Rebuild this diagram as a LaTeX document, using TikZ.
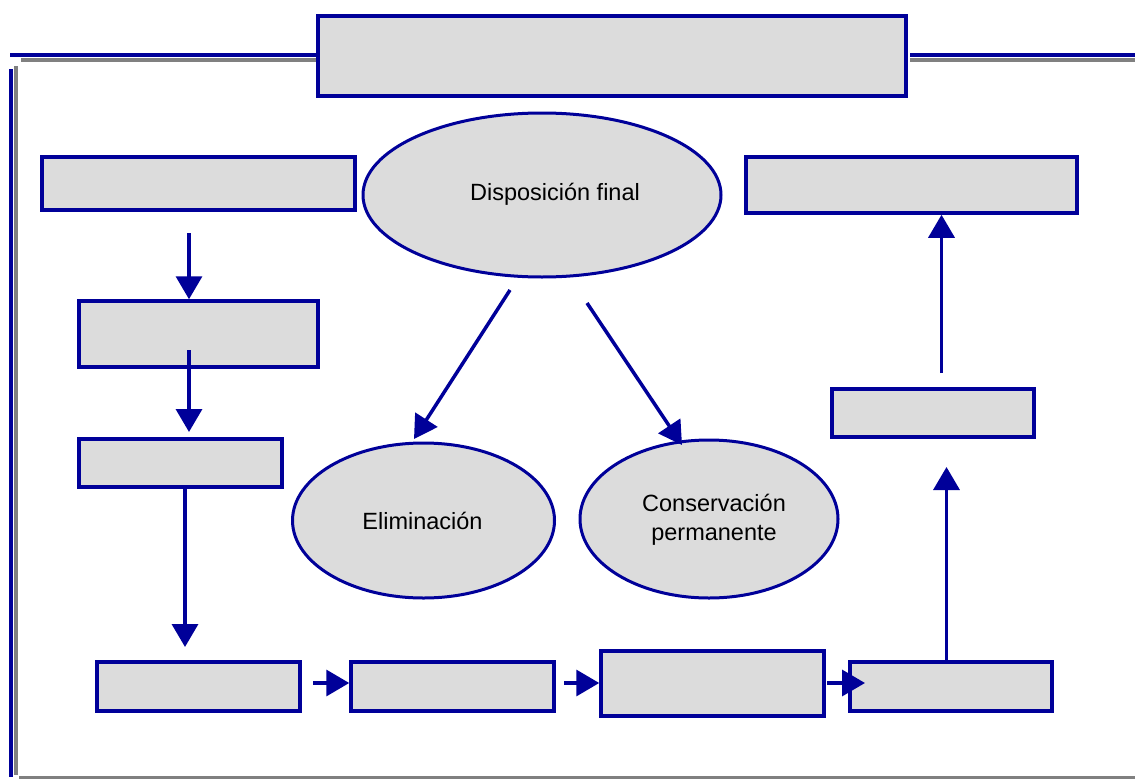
\documentclass[tikz,border=0pt]{standalone}
\usepackage{fontspec}
\setmainfont{Liberation Sans}
\usetikzlibrary{arrows.meta,shapes.geometric}
\definecolor{dblue}{RGB}{0,0,153}
\definecolor{boxfill}{RGB}{220,220,220}
\definecolor{rulegray}{RGB}{128,128,128}
\tikzset{
  boxnode/.style={draw=dblue,fill=boxfill,line width=3.5pt,inner sep=0pt,rectangle},
  ellnode/.style={draw=dblue,fill=boxfill,line width=3pt,inner sep=0pt,ellipse},
  elltext/.style={font=\fontsize{23.5}{29.5}\selectfont,align=center,inner sep=0pt},
  arr/.style={draw=dblue,line width=3.5pt,-{Triangle[length=23pt,width=26pt]}},
  bluerule/.style={draw=dblue,line width=4pt},
  grayrule/.style={draw=rulegray,line width=4pt},
}
\begin{document}
\begin{tikzpicture}[x=1pt,y=-1pt]
\useasboundingbox (0,0) rectangle (1135,779);
% frame rules
\draw[grayrule] (21,60) -- (334,60);
\draw[grayrule] (910,60) -- (1135,60);
\draw[bluerule] (10,54.5) -- (323,54.5);
\draw[bluerule] (910,54.5) -- (1135,54.5);
\draw[grayrule] (16,66) -- (16,775);
\draw[bluerule] (10.5,69) -- (10.5,777);
\draw[draw=rulegray,line width=3pt] (19,777.5) -- (1135,777.5);
% title box
\node[boxnode,minimum width=588pt,minimum height=80pt] (T) at (612,56) {};
% left boxes
\node[boxnode,minimum width=313pt,minimum height=53pt] (B1) at (198.5,183.5) {};
\node[boxnode,minimum width=239pt,minimum height=66pt] (B2) at (198.5,334) {};
\node[boxnode,minimum width=203pt,minimum height=48pt] (B3) at (180.5,463) {};
% bottom row
\node[boxnode,minimum width=203pt,minimum height=49pt] (B4) at (198.5,686.5) {};
\node[boxnode,minimum width=203pt,minimum height=49pt] (B5) at (452.5,686.5) {};
\node[boxnode,minimum width=223pt,minimum height=65pt] (B6) at (712.5,683.5) {};
\node[boxnode,minimum width=202pt,minimum height=49pt] (B7) at (951,686.5) {};
% right boxes
\node[boxnode,minimum width=202pt,minimum height=48pt] (B8) at (933,413) {};
\node[boxnode,minimum width=331pt,minimum height=56pt] (B9) at (911.5,185) {};
% ellipses
\node[ellnode,minimum width=358pt,minimum height=164pt,
  label={[elltext,xshift=13pt,yshift=1pt]center:Disposición final}] (E1) at (542,195) {};
\node[ellnode,minimum width=262pt,minimum height=155pt,
  label={[elltext,xshift=-1pt]center:Eliminación}] (E2) at (423.5,520.5) {};
\node[ellnode,minimum width=258pt,minimum height=158pt,
  label={[elltext,xshift=5pt,yshift=-1pt]center:Conservación\\permanente}] (E3) at (709,519) {};
% free ends
\coordinate (a1) at (189,233);
\coordinate (a2s) at (189,350);
\coordinate (a2e) at (189,432);
\coordinate (a3s) at (185,488);
\coordinate (a3e) at (185,647);
\coordinate (d1s) at (510,290);
\coordinate (d1e) at (414,439);
\coordinate (d2s) at (587,303);
\coordinate (d2e) at (682,445);
\coordinate (h1) at (313,683);
\coordinate (h2) at (564,683);
\coordinate (h3) at (827,683);
\coordinate (h3e) at (865,683);
\coordinate (r1e) at (946.5,467);
\coordinate (r2s) at (941.5,373);
% connectors
\draw[arr] (a1) -- (a1 |- B2.north);
\draw[arr] (a2s) -- (a2e);
\draw[arr] (a3s) -- (a3e);
\draw[arr] (d1s) -- (d1e);
\draw[arr] (d2s) -- (d2e);
\draw[arr] (h1) -- (h1 -| B5.west);
\draw[arr] (h2) -- (h2 -| B6.west);
\draw[arr] (h3) -- (h3e);
\draw[arr] (r1e |- B7.north) -- (r1e);
\draw[arr] (r2s) -- (r2s |- B9.south);
\end{tikzpicture}
\end{document}
